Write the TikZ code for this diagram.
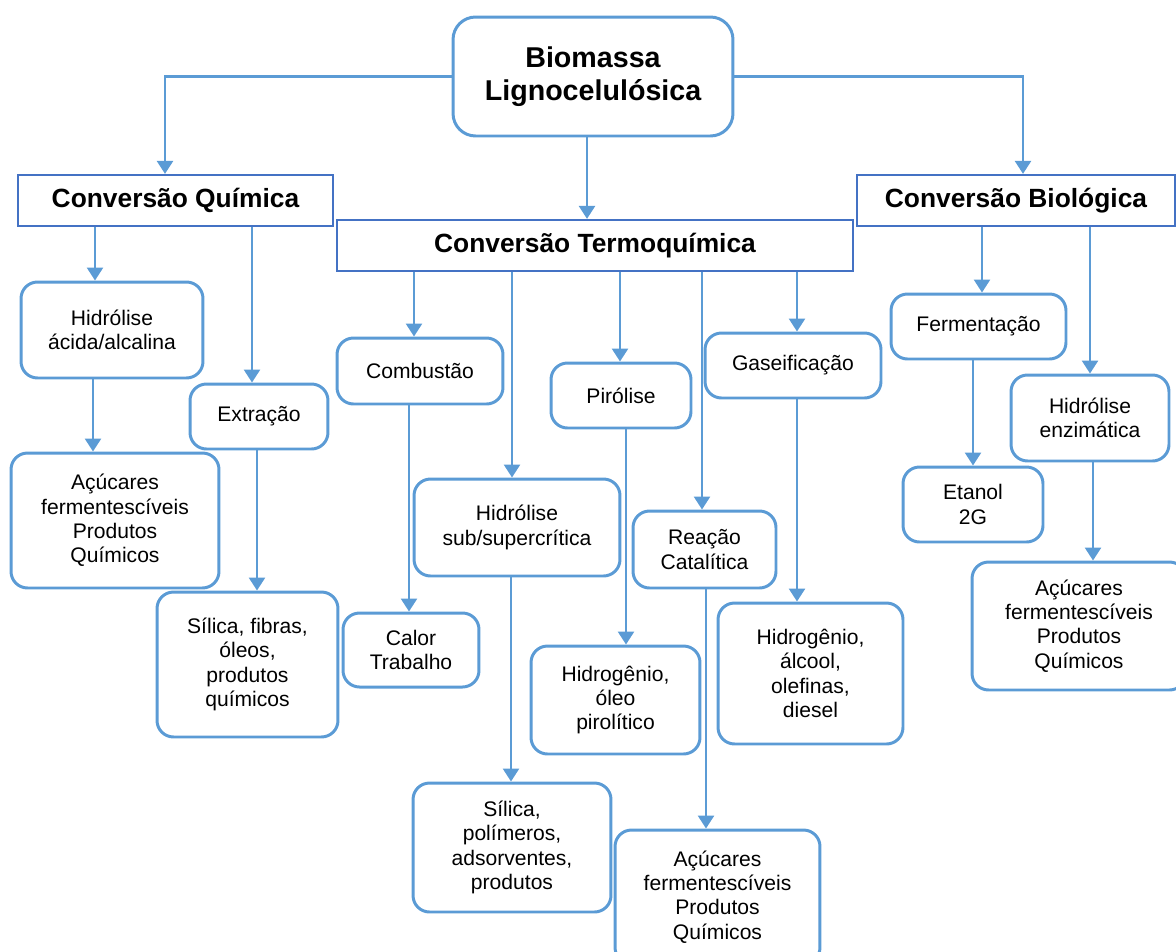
\documentclass[tikz,border=0pt]{standalone}
\usepackage{fontspec}
\setmainfont{Liberation Sans}
\usepackage{xcolor}
\usepackage{tikz}
\usetikzlibrary{arrows.meta,positioning}
\definecolor{lineblue}{HTML}{5B9BD5}
\definecolor{convblue}{HTML}{4472C4}
\tikzset{
  leaf/.style={draw=lineblue, line width=1.7pt, rounded corners=0.33cm, fill=white,
               align=center, inner sep=0pt, font=\fontsize{12}{13.8}\selectfont},
  root/.style={leaf, rounded corners=0.45cm, font=\bfseries\fontsize{16.3}{18.7}\selectfont},
  conv/.style={draw=convblue, line width=1.3pt, fill=white, align=center, inner sep=0pt,
               minimum height=1.02cm, font=\bfseries\fontsize{15}{17}\selectfont},
  arrow/.style={-{Triangle[length=0.26cm,width=0.32cm]}, draw=lineblue, line width=1.5pt}
}
\begin{document}
\begin{tikzpicture}[x=0.02cm, y=-0.02cm]
  \useasboundingbox (0,0) rectangle (1176,951);
  \node[root, minimum width=5.6cm, minimum height=2.38cm] (bio) at (593,76.5) {Biomassa\\Lignocelulósica};
  \node[conv, minimum width=6.3cm] (quim) at (175.5,200.5) {Conversão Química};
  \node[conv, minimum width=10.32cm] (termo) at (595,245.5) {Conversão Termoquímica};
  \node[conv, minimum width=6.36cm] (biol) at (1016,200.5) {Conversão Biológica};
  \node[leaf, minimum width=3.64cm, minimum height=1.92cm] (hidac) at (112,330) {Hidrólise\\ácida/alcalina};
  \node[leaf, minimum width=4.16cm, minimum height=2.7cm] (acuL) at (115,520.5) {Açúcares\\fermentescíveis\\Produtos\\Químicos};
  \node[leaf, minimum width=2.76cm, minimum height=1.3cm] (extr) at (259,416.5) {Extração};
  \node[leaf, minimum width=3.62cm, minimum height=2.9cm] (silF) at (247.5,664.5) {Sílica, fibras,\\óleos,\\produtos\\químicos};
  \node[leaf, minimum width=3.32cm, minimum height=1.32cm] (comb) at (420,371) {Combustão};
  \node[leaf, minimum width=2.72cm, minimum height=1.48cm] (calor) at (411,650) {Calor\\Trabalho};
  \node[leaf, minimum width=4.12cm, minimum height=1.94cm] (hidsub) at (517,527.5) {Hidrólise\\sub/supercrítica};
  \node[leaf, minimum width=3.96cm, minimum height=2.58cm] (silP) at (512,847.5) {Sílica,\\polímeros,\\adsorventes,\\produtos};
  \node[leaf, minimum width=2.8cm, minimum height=1.3cm] (piro) at (621,395.5) {Pirólise};
  \node[leaf, minimum width=3.38cm, minimum height=2.16cm] (hoil) at (615.5,700) {Hidrogênio,\\óleo\\pirolítico};
  \node[leaf, minimum width=2.86cm, minimum height=1.54cm] (reac) at (704.5,549.5) {Reação\\Catalítica};
  \node[leaf, minimum width=4.1cm, minimum height=2.68cm] (acuB) at (717.5,897) {Açúcares\\fermentescíveis\\Produtos\\Químicos};
  \node[leaf, minimum width=3.52cm, minimum height=1.3cm] (gas) at (793,365.5) {Gaseificação};
  \node[leaf, minimum width=3.7cm, minimum height=2.82cm] (hAlc) at (810.5,673.5) {Hidrogênio,\\álcool,\\olefinas,\\diesel};
  \node[leaf, minimum width=3.5cm, minimum height=1.3cm] (ferm) at (978.5,326.5) {Fermentação};
  \node[leaf, minimum width=3.16cm, minimum height=1.72cm] (hidenz) at (1090,418) {Hidrólise\\enzimática};
  \node[leaf, minimum width=2.8cm, minimum height=1.5cm] (etanol) at (973,504.5) {Etanol\\2G};
  \node[leaf, minimum width=4.28cm, minimum height=2.56cm] (acuR) at (1079,626) {Açúcares\\fermentescíveis\\Produtos\\Químicos};
  \draw[arrow] (bio.west) -| (165,0 |- quim.north);
  \draw[arrow] (bio.east) -| (1023,0 |- biol.north);
  \foreach \u/\v/\x in {bio/termo/587, quim/hidac/95, quim/extr/252, hidac/acuL/93, extr/silF/257,
      termo/comb/414, comb/calor/409, termo/hidsub/512, hidsub/silP/511, termo/piro/620,
      piro/hoil/626, termo/reac/702, reac/acuB/706, termo/gas/797, gas/hAlc/797,
      biol/ferm/982, ferm/etanol/973, biol/hidenz/1090, hidenz/acuR/1093}
    \draw[arrow] (\x,0 |- \u.south) -- (\x,0 |- \v.north);
\end{tikzpicture}
\end{document}
